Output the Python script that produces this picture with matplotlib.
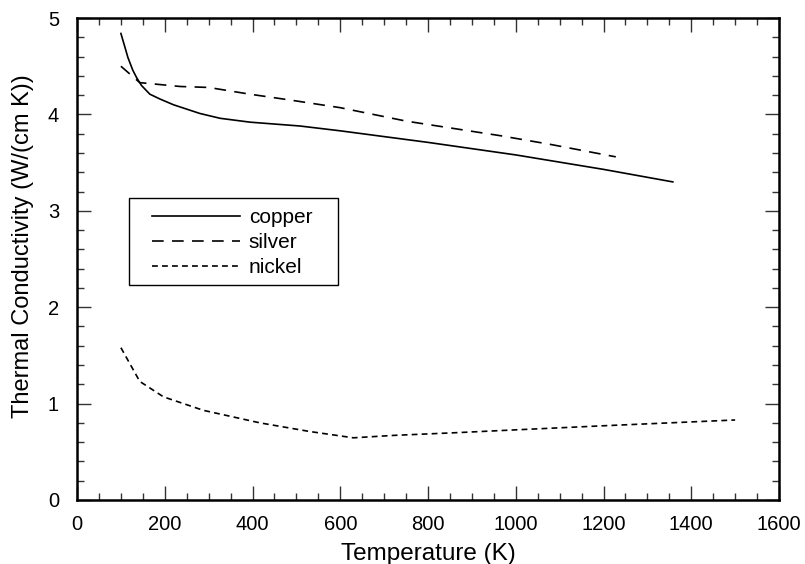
import matplotlib
matplotlib.use("Agg")
import matplotlib.pyplot as plt
from matplotlib.patches import Rectangle
from matplotlib.ticker import MultipleLocator

plt.rcParams['font.family'] = ['Liberation Sans', 'DejaVu Sans']

# Datos (W/(cm K))
t_copper = [100, 109, 116, 127, 136, 147, 166, 189, 220, 280, 326, 394, 508, 600,
            800, 1000, 1200, 1358]
k_copper = [4.84, 4.70, 4.59, 4.46, 4.38, 4.30, 4.21, 4.16, 4.10, 4.01, 3.96, 3.92,
            3.88, 3.83, 3.71, 3.58, 3.43, 3.30]

t_silver = [100, 143, 235, 300, 394, 485, 600, 751, 964, 1078, 1228]
k_silver = [4.50, 4.33, 4.29, 4.28, 4.21, 4.15, 4.07, 3.93, 3.78, 3.69, 3.56]

t_nickel = [100, 143, 197, 288, 417, 531, 630, 721, 873, 964, 1200, 1500]
k_nickel = [1.58, 1.23, 1.07, 0.93, 0.80, 0.71, 0.645, 0.67, 0.70, 0.72, 0.77, 0.83]

fig = plt.figure(figsize=(8.05, 5.64), dpi=100)
ax = fig.add_axes([0.0957, 0.1135, 0.872, 0.8545])

ax.plot(t_copper, k_copper, color='black', lw=1.2, ls='-', label='copper')
ax.plot(t_silver, k_silver, color='black', lw=1.2, ls=(0, (7, 5)), label='silver')
ax.plot(t_nickel, k_nickel, color='black', lw=1.2, ls=(0, (3.5, 2.5)), label='nickel')

ax.set_xlim(0, 1600)
ax.set_ylim(0, 5)
ax.xaxis.set_major_locator(MultipleLocator(200))
ax.xaxis.set_minor_locator(MultipleLocator(50))
ax.yaxis.set_major_locator(MultipleLocator(1))
ax.yaxis.set_minor_locator(MultipleLocator(0.2))

ax.tick_params(which='both', direction='in', top=True, right=True,
               labelsize=14.5, width=1, color='#333333')
ax.tick_params(which='major', length=10)
ax.tick_params(axis='x', which='major', pad=11)
ax.tick_params(axis='y', which='major', pad=13)
ax.tick_params(which='minor', length=5)
for s in ax.spines.values():
    s.set_linewidth(1.8)

ax.set_xlabel('Temperature (K)', fontsize=17.5, labelpad=6)
ax.set_ylabel('Thermal Conductivity (W/(cm K))', fontsize=17)
ax.yaxis.set_label_coords(-0.062, 0.527)

# Leyenda sin marco; el marco se dibuja aparte para controlar los márgenes
leg = ax.legend(loc='upper left', bbox_to_anchor=(0.1068, 0.606), fontsize=15,
                frameon=False, handlelength=4.2, handletextpad=0.45,
                labelspacing=0.3, borderpad=0, borderaxespad=0)
ax.add_patch(Rectangle((0.074, 0.446), 0.298, 0.1806, transform=ax.transAxes,
                       fill=False, edgecolor='black', lw=1, zorder=5))

fig.savefig('out.png', dpi=100)
